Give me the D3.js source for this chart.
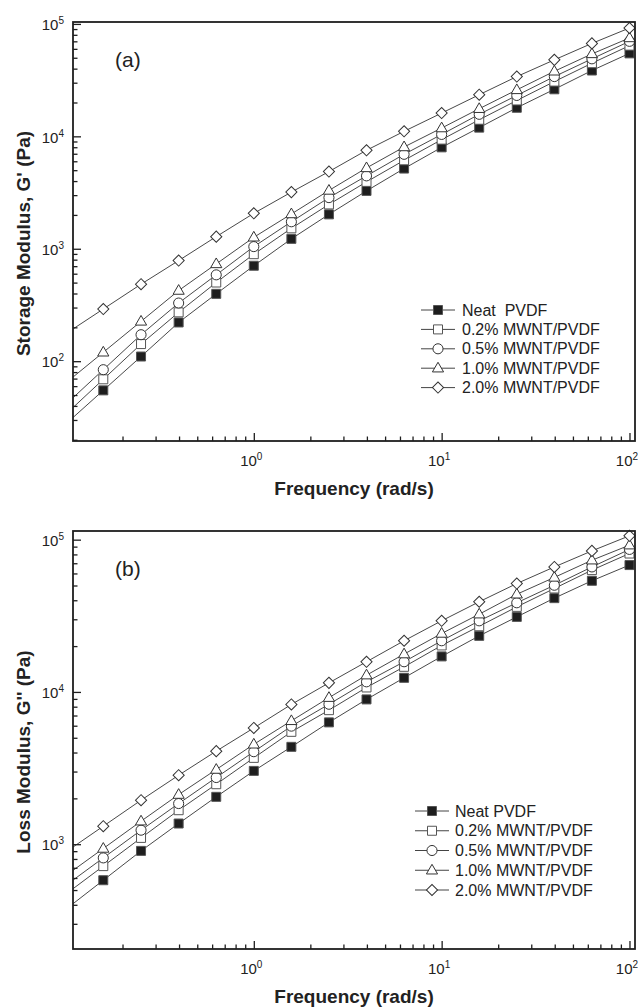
<!DOCTYPE html>
<html>
<head>
<meta charset="utf-8">
<script src="https://cdn.jsdelivr.net/npm/d3@7"></script>
<style>
  html, body { margin: 0; padding: 0; background: #fff; }
  svg { display: block; font-family: "Liberation Sans", Arial, sans-serif; }
</style>
</head>
<body>
<svg id="chart" width="638" height="1007"></svg>
<script>
// ---------------- DATA ----------------
const frequency = [0.158, 0.251, 0.398, 0.631, 1.0, 1.585, 2.512, 3.981, 6.31, 10, 15.85, 25.12, 39.81, 63.1, 100];

const legendTop = ["Neat  PVDF", "0.2% MWNT/PVDF", "0.5% MWNT/PVDF", "1.0% MWNT/PVDF", "2.0% MWNT/PVDF"];
const legendBottom = ["Neat PVDF", "0.2% MWNT/PVDF", "0.5% MWNT/PVDF", "1.0% MWNT/PVDF", "2.0% MWNT/PVDF"];

// Storage modulus G' (Pa)
const storageNeat = [55, 110, 221, 397, 706, 1225, 2023, 3270, 5170, 7980, 11950, 17950, 26200, 38500, 54700];
const storage02 = [69, 142, 272, 501, 895, 1520, 2480, 3935, 6120, 9350, 14050, 20850, 30700, 44700, 64100];
const storage05 = [84, 172, 329, 586, 1045, 1738, 2850, 4449, 6920, 10400, 15700, 23100, 34000, 48900, 70000];
const storage10 = [120, 226, 425, 733, 1265, 2038, 3300, 5236, 8040, 11850, 17600, 25900, 37900, 54100, 75000];
const storage20 = [291, 484, 785, 1282, 2066, 3190, 4860, 7516, 11080, 16100, 23450, 34000, 47900, 67100, 92000];

// Loss modulus G'' (Pa)
const lossNeat = [580, 904, 1367, 2047, 3030, 4360, 6310, 8930, 12380, 17110, 23350, 31100, 41300, 53700, 68100];
const loss02 = [718, 1100, 1672, 2477, 3690, 5470, 7590, 10700, 14620, 20200, 27000, 36200, 47800, 63100, 81100];
const loss05 = [813, 1236, 1849, 2741, 4050, 5960, 8300, 11650, 15780, 21680, 29300, 38500, 50200, 66200, 86300];
const loss10 = [937, 1416, 2118, 3093, 4530, 6460, 9170, 12890, 17720, 24200, 32400, 43800, 56500, 73300, 92000];
const loss20 = [1313, 1945, 2838, 4085, 5800, 8280, 11470, 15780, 21680, 29330, 39100, 51500, 66200, 84400, 106000];

// Tick labels
const xTickValues = [1, 10, 100];
const xTickExponents = ["0", "1", "2"];
const yTopTickValues = [100, 1000, 10000, 100000];
const yTopTickExponents = ["2", "3", "4", "5"];
const yBottomTickValues = [1000, 10000, 100000];
const yBottomTickExponents = ["3", "4", "5"];

const panelLabels = ["(a)", "(b)"];
const yTitles = ["Storage Modulus, G' (Pa)", "Loss Modulus, G'' (Pa)"];
const xTitle = "Frequency (rad/s)";

// ---------------- DRAWING ----------------
const svg = d3.select("#chart");
svg.append("rect").attr("width", 638).attr("height", 1007).attr("fill", "#fff");

const markerKinds = ["filledSquare", "square", "circle", "triangle", "diamond"];
const ink = "#1e1e1e";

function symbolPath(kind) {
  if (kind === "filledSquare" || kind === "square") return d3.symbol(d3.symbolSquare, 81)();
  if (kind === "circle") return d3.symbol(d3.symbolCircle, 80)();
  if (kind === "triangle") return d3.symbol(d3.symbolTriangle, 54)();
  return d3.symbol(d3.symbolSquare, 62)();
}
function drawMarker(g, kind, cx, cy) {
  const p = g.append("path")
    .attr("d", symbolPath(kind))
    .attr("stroke-width", 1);
  let t = `translate(${cx},${cy})`;
  if (kind === "diamond") t += " rotate(45)";
  if (kind === "triangle") t = `translate(${cx},${cy + 0.5})`;
  p.attr("transform", t);
  if (kind === "filledSquare") p.attr("fill", ink).attr("stroke", "#555");
  else if (kind === "square") p.attr("fill", "#fff").attr("stroke", "#555");
  else p.attr("fill", "#fff").attr("stroke", "#333");
}

function minorValues(lo, hi) {
  const out = [];
  for (let e = Math.floor(Math.log10(lo)); e <= Math.ceil(Math.log10(hi)); e++) {
    for (let m = 2; m <= 9; m++) {
      const v = m * Math.pow(10, e);
      if (v > lo && v < hi) out.push(v);
    }
  }
  return out;
}

function supLabel(sel, exps, values) {
  sel.each(function(d) {
    const i = values.indexOf(d);
    const t = d3.select(this);
    t.text(null);
    t.append("tspan").style("font-size", "15px").text("10");
    t.append("tspan").attr("dy", "-0.6em").style("font-size", "10px").text(exps[i]);
  });
}

function drawPanel(cfg) {
  const g = svg.append("g");
  const x = d3.scaleLog().domain([0.109, 107]).range([cfg.left, cfg.right]);
  const y = d3.scaleLog().domain(cfg.yDomain).range([cfg.bottom, cfg.top]);

  // lines
  const line = d3.line().x(d => x(d[0])).y(d => y(d[1]));
  cfg.series.forEach(vals => {
    const pts = frequency.map((f, i) => [f, vals[i]]);
    // extend the first segment back to the left edge of the plot
    const lx0 = Math.log10(x.domain()[0]);
    const lx1 = Math.log10(pts[0][0]), lx2 = Math.log10(pts[1][0]);
    const ly1 = Math.log10(pts[0][1]), ly2 = Math.log10(pts[1][1]);
    const ly0 = ly1 + (lx0 - lx1) * (ly2 - ly1) / (lx2 - lx1);
    const full = [[Math.pow(10, lx0), Math.pow(10, ly0)]].concat(pts);
    g.append("path").attr("d", line(full))
      .attr("fill", "none").attr("stroke", "#333").attr("stroke-width", 0.9);
  });
  // markers
  cfg.series.forEach((vals, s) => {
    frequency.forEach((f, i) => drawMarker(g, markerKinds[s], x(f), y(vals[i])));
  });

  // axes
  const xMajor = d3.axisBottom(x).tickValues(xTickValues).tickSize(-8).tickPadding(0);
  const xMinor = d3.axisBottom(x).tickValues(minorValues(0.109, 107)).tickSize(-4.5).tickFormat("");
  const yMajor = d3.axisLeft(y).tickValues(cfg.yTicks).tickSize(-8).tickPadding(0);
  const yMinor = d3.axisLeft(y).tickValues(minorValues(cfg.yDomain[0], cfg.yDomain[1])).tickSize(-4.5).tickFormat("");

  const gxm = g.append("g").attr("transform", `translate(0,${cfg.bottom})`).call(xMinor);
  const gx = g.append("g").attr("transform", `translate(0,${cfg.bottom})`).call(xMajor);
  const gym = g.append("g").attr("transform", `translate(${cfg.left},0)`).call(yMinor);
  const gy = g.append("g").attr("transform", `translate(${cfg.left},0)`).call(yMajor);
  [gxm, gx, gym, gy].forEach(a => {
    a.select(".domain").remove();
    a.attr("font-family", "Liberation Sans, Arial, sans-serif").attr("font-size", 15);
    a.selectAll(".tick line").attr("stroke", ink).attr("stroke-width", 1.3);
  });
  gx.selectAll(".tick text")
    .attr("y", 25).attr("dy", null).attr("dx", "-3")
    .attr("fill", "#222")
    .call(supLabel, xTickExponents, xTickValues);
  gy.selectAll(".tick text")
    .attr("x", -9).attr("dy", "0.38em")
    .attr("fill", "#222")
    .call(supLabel, cfg.yExps, cfg.yTicks);

  // frame
  g.append("rect")
    .attr("x", cfg.left).attr("y", cfg.top)
    .attr("width", cfg.right - cfg.left).attr("height", cfg.bottom - cfg.top)
    .attr("fill", "none").attr("stroke", ink).attr("stroke-width", 1.8);

  // panel label
  g.append("text").attr("x", cfg.left + 42).attr("y", cfg.top + 45)
    .attr("font-size", "21px").attr("fill", "#222").text(cfg.label);

  // axis titles
  g.append("text")
    .attr("transform", `translate(23,${(cfg.top + cfg.bottom) / 2 + 12}) rotate(-90)`)
    .attr("text-anchor", "middle").attr("dominant-baseline", "central")
    .attr("font-size", "19px").attr("font-weight", "bold").attr("fill", "#222")
    .text(cfg.yTitle);
  g.append("text")
    .attr("x", (cfg.left + cfg.right) / 2).attr("y", cfg.bottom + 47)
    .attr("text-anchor", "middle").attr("dominant-baseline", "central")
    .attr("font-size", "19px").attr("font-weight", "bold").attr("fill", "#222")
    .text(xTitle);

  // legend
  const lg = g.append("g");
  cfg.legend.forEach((name, i) => {
    const ly = cfg.legY + i * cfg.legStep;
    lg.append("line").attr("x1", cfg.legX - 17).attr("x2", cfg.legX + 17)
      .attr("y1", ly).attr("y2", ly).attr("stroke", "#444").attr("stroke-width", 1);
    drawMarker(lg, markerKinds[i], cfg.legX, ly);
    lg.append("text").attr("x", cfg.legX + cfg.legTextDx).attr("y", ly)
      .attr("dominant-baseline", "central").attr("font-size", "16px")
      .attr("fill", "#222").style("white-space", "pre").text(name);
  });
}

drawPanel({
  left: 73, right: 635, top: 22, bottom: 441,
  yDomain: [19.5, 1.04e5], yTicks: yTopTickValues, yExps: yTopTickExponents,
  series: [storageNeat, storage02, storage05, storage10, storage20],
  label: panelLabels[0], yTitle: yTitles[0], legend: legendTop,
  legX: 438, legY: 310, legStep: 19.4, legTextDx: 24
});
drawPanel({
  left: 73, right: 635, top: 531, bottom: 949,
  yDomain: [205, 1.14e5], yTicks: yBottomTickValues, yExps: yBottomTickExponents,
  series: [lossNeat, loss02, loss05, loss10, loss20],
  label: panelLabels[1], yTitle: yTitles[1], legend: legendBottom,
  legX: 432, legY: 811, legStep: 19.75, legTextDx: 23
});
</script>
</body>
</html>
